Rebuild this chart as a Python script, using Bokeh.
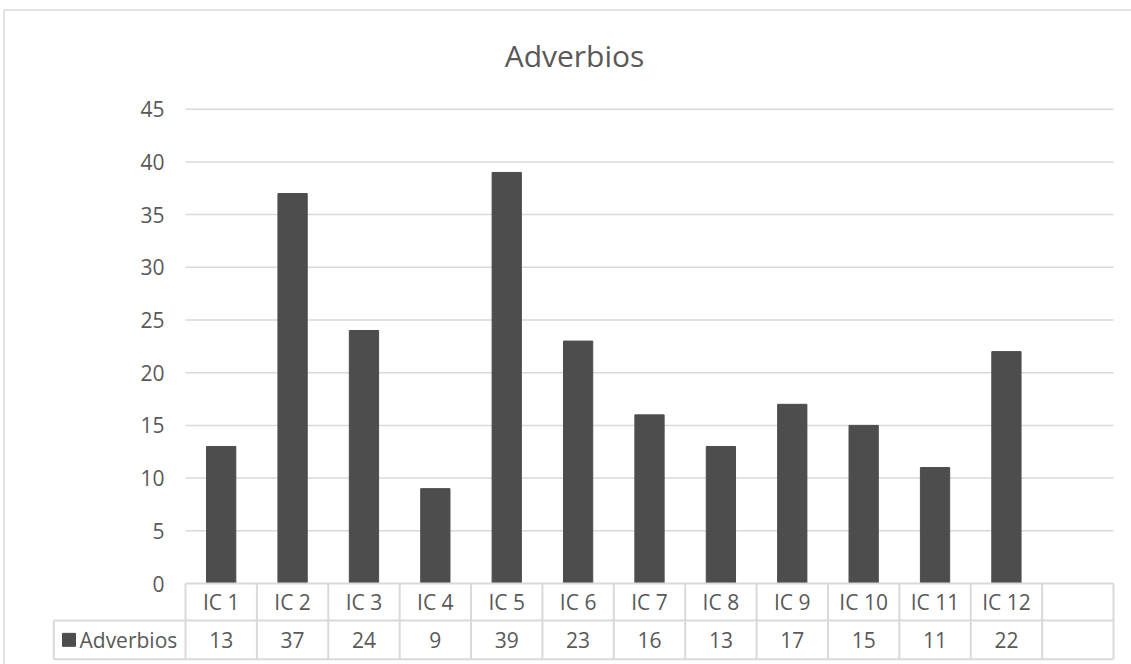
from bokeh.plotting import figure
from bokeh.models import Range1d, ColumnDataSource
from bokeh.core.properties import value
from bokeh.embed import file_html
from bokeh.resources import INLINE

# ---- data ----
categories = ["IC 1", "IC 2", "IC 3", "IC 4", "IC 5", "IC 6", "IC 7", "IC 8",
              "IC 9", "IC 10", "IC 11", "IC 12"]
values = [13, 37, 24, 9, 39, 23, 16, 13, 17, 15, 11, 22]
series_name = "Adverbios"
title_text = "Adverbios"
y_ticks = [0, 5, 10, 15, 20, 25, 30, 35, 40, 45]
n_slots = 13  # the table has one extra empty column

# ---- layout helpers (pixel geometry -> data coords) ----
W, H = 1131, 664
PX0, PY0 = 185.0, 583.0           # pixel position of (x=0, y=0)
SX = (1113.0 - 185.0) / n_slots   # px per category slot
SY = (583.0 - 108.7) / 45.0       # px per y unit

def dx(px):
    return (px - PX0) / SX

def dy(py):
    return (PY0 - py) / SY

TXT = "#595959"
LINE = "#d9d9d9"
BAR = "#4d4d4d"
FONT = value("Open Sans")

p = figure(width=W, height=H, output_backend="svg", toolbar_location=None,
           x_range=Range1d(dx(0), dx(W)), y_range=Range1d(dy(H), dy(0)),
           min_border=0, outline_line_color=None)
p.axis.visible = False
p.grid.visible = False
p.background_fill_color = "white"
p.border_fill_color = "white"

# outer chart border (left & top visible)
p.line(x=[dx(3.5), dx(3.5)], y=[dy(H + 10), dy(9.5)], line_color=LINE, line_width=1.5)
p.line(x=[dx(3.5), dx(W + 10)], y=[dy(9.5), dy(9.5)], line_color=LINE, line_width=1.5)

# gridlines
gl = [t for t in y_ticks if t > 0]
p.segment(x0=[0] * len(gl), x1=[n_slots] * len(gl), y0=gl, y1=gl,
          line_color=LINE, line_width=1.5)

# bars
xs = [i + 0.5 for i in range(len(categories))]
src = ColumnDataSource(dict(x=xs, top=values, cat=categories,
                            lab=[str(v) for v in values]))
p.vbar(x="x", top="top", bottom=0, width=0.41, source=src,
       fill_color=BAR, line_color=BAR)

# y tick labels
p.text(x=[dx(164)] * len(y_ticks), y=y_ticks, text=[str(t) for t in y_ticks],
       text_align="right", text_baseline="middle", text_color=TXT,
       text_font=FONT, text_font_size="21px")

# data table
row1 = dy(620.0)
row2 = dy(658.7)
left_col = dx(53.3)
# horizontal lines
p.segment(x0=[0, left_col, left_col], x1=[n_slots] * 3, y0=[0, row1, row2],
          y1=[0, row1, row2], line_color=LINE, line_width=2)
# vertical lines
vx = list(range(n_slots + 1))
p.segment(x0=vx, x1=vx, y0=[0] * len(vx), y1=[row2] * len(vx),
          line_color=LINE, line_width=2)
p.segment(x0=[left_col], x1=[left_col], y0=[row1], y1=[row2],
          line_color=LINE, line_width=2)

# category labels & values
p.text(x="x", y=(0 + row1) / 2, text="cat", source=src, text_align="center",
       text_baseline="middle", text_color=TXT, text_font=FONT, text_font_size="21px")
p.text(x="x", y=(row1 + row2) / 2, text="lab", source=src, text_align="center",
       text_baseline="middle", text_color=TXT, text_font=FONT, text_font_size="21px")

# legend key in table
p.scatter(x=[dx(68.5)], y=[(row1 + row2) / 2], marker="square", size=13,
          fill_color=BAR, line_color=BAR)
p.text(x=[dx(79)], y=[(row1 + row2) / 2], text=[series_name], text_align="left",
       text_baseline="middle", text_color=TXT, text_font=FONT, text_font_size="21px")

# title
p.text(x=[dx(574)], y=[dy(55)], text=[title_text], text_align="center",
       text_baseline="middle", text_color=TXT, text_font=FONT, text_font_size="30px")

open("out.html", "w").write(file_html(p, INLINE))
